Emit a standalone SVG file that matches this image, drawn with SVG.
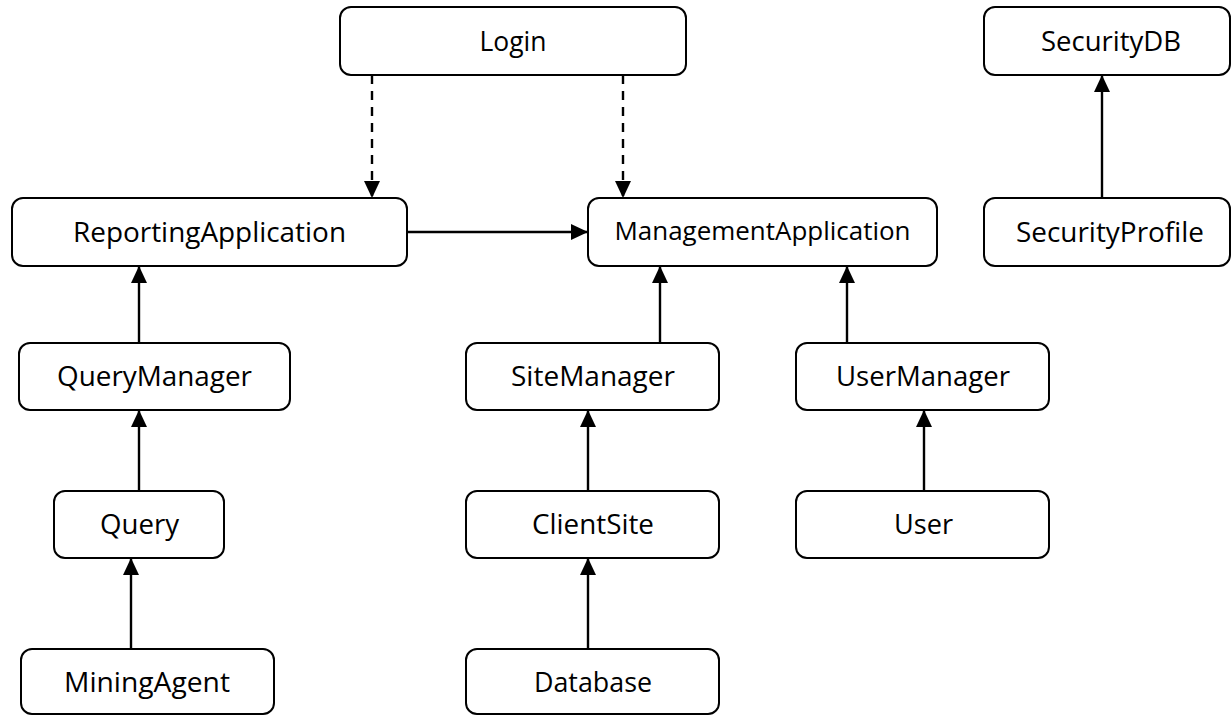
<svg xmlns="http://www.w3.org/2000/svg" width="1232" height="715" viewBox="0 0 1232 715">
<style>
.box{fill:#fff;stroke:#000;stroke-width:2}
.t{font-family:"Open Sans","Liberation Sans",sans-serif;font-size:27.5px;fill:#000;text-anchor:middle}
.c{fill:none;stroke:#000;stroke-width:2.4;marker-end:url(#ah)}
.d{stroke-dasharray:9 7}
</style>
<defs>
<marker id="ah" markerUnits="userSpaceOnUse" markerWidth="17" markerHeight="16" viewBox="0 0 17 16" refX="17" refY="8" orient="auto">
<path d="M0,0 L17,8 L0,16 Z" fill="#000"/>
</marker>
</defs>
<rect width="1232" height="715" fill="#fff"/>
<g id="connectors">
<path class="c d" d="M372,75 V198"/>
<path class="c d" d="M623,75 V198"/>
<path class="c" d="M407,232 H588"/>
<path class="c" d="M660,343 V266"/>
<path class="c" d="M847,343 V266"/>
<path class="c" d="M139,343 V266"/>
<path class="c" d="M139,491 V410"/>
<path class="c" d="M131,649 V558"/>
<path class="c" d="M588,491 V410"/>
<path class="c" d="M588,649 V558"/>
<path class="c" d="M924,491 V410"/>
<path class="c" d="M1102,198 V75"/>
</g>
<g id="login"><rect class="box" x="340" y="7" width="346" height="68" rx="11"/><text class="t" x="513" y="51" textLength="67" lengthAdjust="spacingAndGlyphs">Login</text></g>
<g id="securitydb"><rect class="box" x="984" y="7" width="246" height="68" rx="11"/><text class="t" x="1111" y="51" textLength="140" lengthAdjust="spacingAndGlyphs">SecurityDB</text></g>
<g id="reportingapplication"><rect class="box" x="12" y="198" width="395" height="68" rx="11"/><text class="t" x="209.5" y="242" textLength="273" lengthAdjust="spacingAndGlyphs">ReportingApplication</text></g>
<g id="managementapplication"><rect class="box" x="588" y="198" width="349" height="68" rx="11"/><text class="t" x="762.5" y="240" style="font-size:25.5px" textLength="296" lengthAdjust="spacingAndGlyphs">ManagementApplication</text></g>
<g id="securityprofile"><rect class="box" x="984" y="198" width="246" height="68" rx="11"/><text class="t" x="1110" y="242" textLength="188" lengthAdjust="spacingAndGlyphs">SecurityProfile</text></g>
<g id="querymanager"><rect class="box" x="19" y="343" width="271" height="67" rx="11"/><text class="t" x="154.5" y="386" textLength="195" lengthAdjust="spacingAndGlyphs">QueryManager</text></g>
<g id="sitemanager"><rect class="box" x="466" y="343" width="253" height="67" rx="11"/><text class="t" x="593" y="386" textLength="164" lengthAdjust="spacingAndGlyphs">SiteManager</text></g>
<g id="usermanager"><rect class="box" x="796" y="343" width="253" height="67" rx="11"/><text class="t" x="923" y="386" textLength="174" lengthAdjust="spacingAndGlyphs">UserManager</text></g>
<g id="query"><rect class="box" x="54" y="491" width="170" height="67" rx="11"/><text class="t" x="139.5" y="534" textLength="79" lengthAdjust="spacingAndGlyphs">Query</text></g>
<g id="clientsite"><rect class="box" x="466" y="491" width="253" height="67" rx="11"/><text class="t" x="593" y="534" textLength="122" lengthAdjust="spacingAndGlyphs">ClientSite</text></g>
<g id="user"><rect class="box" x="796" y="491" width="253" height="67" rx="11"/><text class="t" x="923.5" y="534" textLength="59" lengthAdjust="spacingAndGlyphs">User</text></g>
<g id="miningagent"><rect class="box" x="21" y="649" width="253" height="65" rx="11"/><text class="t" x="147" y="692" textLength="166" lengthAdjust="spacingAndGlyphs">MiningAgent</text></g>
<g id="database"><rect class="box" x="466" y="649" width="253" height="65" rx="11"/><text class="t" x="593" y="692" textLength="118" lengthAdjust="spacingAndGlyphs">Database</text></g>
</svg>
